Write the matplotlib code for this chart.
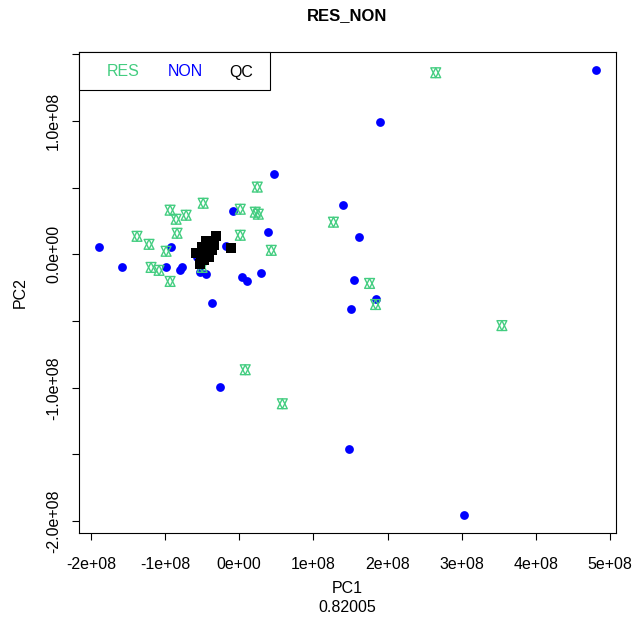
import matplotlib
matplotlib.use("Agg")
import matplotlib.pyplot as plt
import numpy as np
from matplotlib.patches import Rectangle

plt.rcParams['font.family'] = ['Liberation Sans', 'DejaVu Sans']

# data in units of 1e8
non_x = [-1.892, -1.581, -0.986, -0.919, -0.797, -0.770, -0.527, -0.446, -0.365, -0.257,
         -0.081, -0.176, -0.568, 0.041, 0.108, 0.297, 0.392, 0.473, 1.405, 1.608,
         1.541, 1.500, 1.838, 1.892, 1.486, 3.027, 4.811]
non_y = [0.053, -0.098, -0.098, 0.053, -0.120, -0.098, -0.135, -0.150, -0.368, -0.992,
         0.323, 0.060, -0.023, -0.173, -0.203, -0.143, 0.165, 0.602, 0.368, 0.128,
         -0.195, -0.406, -0.331, 0.992, -1.459, -1.955, 1.383]

res_x = [2.649, 0.243, -0.486, -0.932, -0.851, -0.716, 0.014, 0.216, 0.257, -0.838,
         -1.378, -1.216, -0.986, 0.014, 0.432, -1.189, -1.081, -0.932, -0.500, 1.270,
         1.757, 1.838, 3.541, 0.081, 0.581]
res_y = [1.361, 0.504, 0.383, 0.331, 0.263, 0.293, 0.338, 0.316, 0.301, 0.158,
         0.135, 0.075, 0.023, 0.143, 0.030, -0.098, -0.120, -0.203, -0.098, 0.241,
         -0.218, -0.376, -0.534, -0.865, -1.120]

qc_x = [-0.311, -0.446, -0.378, -0.432, -0.581, -0.514, -0.365, -0.500, -0.108, -0.527,
        -0.405, -0.473, -0.338, -0.419, -0.459]
qc_y = [0.135, 0.098, 0.053, 0.015, 0.008, -0.015, 0.030, 0.053, 0.045, -0.075,
        -0.023, -0.045, 0.068, 0.068, 0.030]

scale = 1e8
non_x = np.array(non_x) * scale; non_y = np.array(non_y) * scale
res_x = np.array(res_x) * scale; res_y = np.array(res_y) * scale
qc_x = np.array(qc_x) * scale; qc_y = np.array(qc_y) * scale

x_ticks = [-2e8, -1e8, 0, 1e8, 2e8, 3e8, 4e8, 5e8]
x_ticklabels = ["-2e+08", "-1e+08", "0e+00", "1e+08", "2e+08", "3e+08", "4e+08", "5e+08"]
y_ticks = [-2e8, -1.5e8, -1e8, -0.5e8, 0, 0.5e8, 1e8, 1.5e8]
y_ticklabels = ["-2.0e+08", "", "-1.0e+08", "", "0.0e+00", "", "1.0e+08", ""]

green = "#43CD80"
blue = "#0000FF"
fs = 11.5

fig = plt.figure(figsize=(6.32, 6.29), dpi=100)
ax = fig.add_axes([79/632, 1-533/629, 537/632, 481/629])

ax.scatter(non_x, non_y, s=40, c=blue, marker='o', linewidths=0, zorder=3)
ax.scatter(res_x, res_y, s=50, facecolors='none', edgecolors=green, marker='^', linewidths=1.0, zorder=3)
ax.scatter(res_x, res_y, s=50, facecolors='none', edgecolors=green, marker='v', linewidths=1.0, zorder=3)
ax.scatter(qc_x, qc_y, s=44, c='black', marker='s', linewidths=0, zorder=4)

allx = np.concatenate([non_x, res_x, qc_x]); ally = np.concatenate([non_y, res_y, qc_y])
dx = allx.max() - allx.min(); dy = ally.max() - ally.min()
ax.set_xlim(allx.min() - 0.04*dx, allx.max() + 0.04*dx)
ax.set_ylim(ally.min() - 0.04*dy, ally.max() + 0.04*dy)

ax.set_xticks(x_ticks)
ax.set_xticklabels(x_ticklabels)
ax.set_yticks(y_ticks)
ax.set_yticklabels(y_ticklabels, rotation=90, va='center')
ax.tick_params(axis='both', direction='out', length=5, width=0.8, labelsize=fs)
ax.tick_params(axis='x', pad=12)
ax.tick_params(axis='y', pad=8)
for s in ax.spines.values():
    s.set_linewidth(0.8)

ax.set_title("RES_NON", fontsize=12, fontweight='bold', pad=23)
ax.set_xlabel("PC1\n0.82005", fontsize=fs, labelpad=7, linespacing=1.3)
ax.set_ylabel("PC2", fontsize=fs, labelpad=13)

# legend box (text only)
ax.add_patch(Rectangle((0, 1 - 38/481), 191/537, 38/481, transform=ax.transAxes,
                       facecolor='white', edgecolor='black', linewidth=0.8, zorder=5, clip_on=False))
for lbl, col, xf in [("RES", green, 44/537), ("NON", blue, 106/537), ("QC", "black", 162/537)]:
    ax.text(xf, 1 - 20/481, lbl, color=col, fontsize=fs, ha='center', va='center',
            transform=ax.transAxes, zorder=6)

fig.savefig("out.png", dpi=100)
